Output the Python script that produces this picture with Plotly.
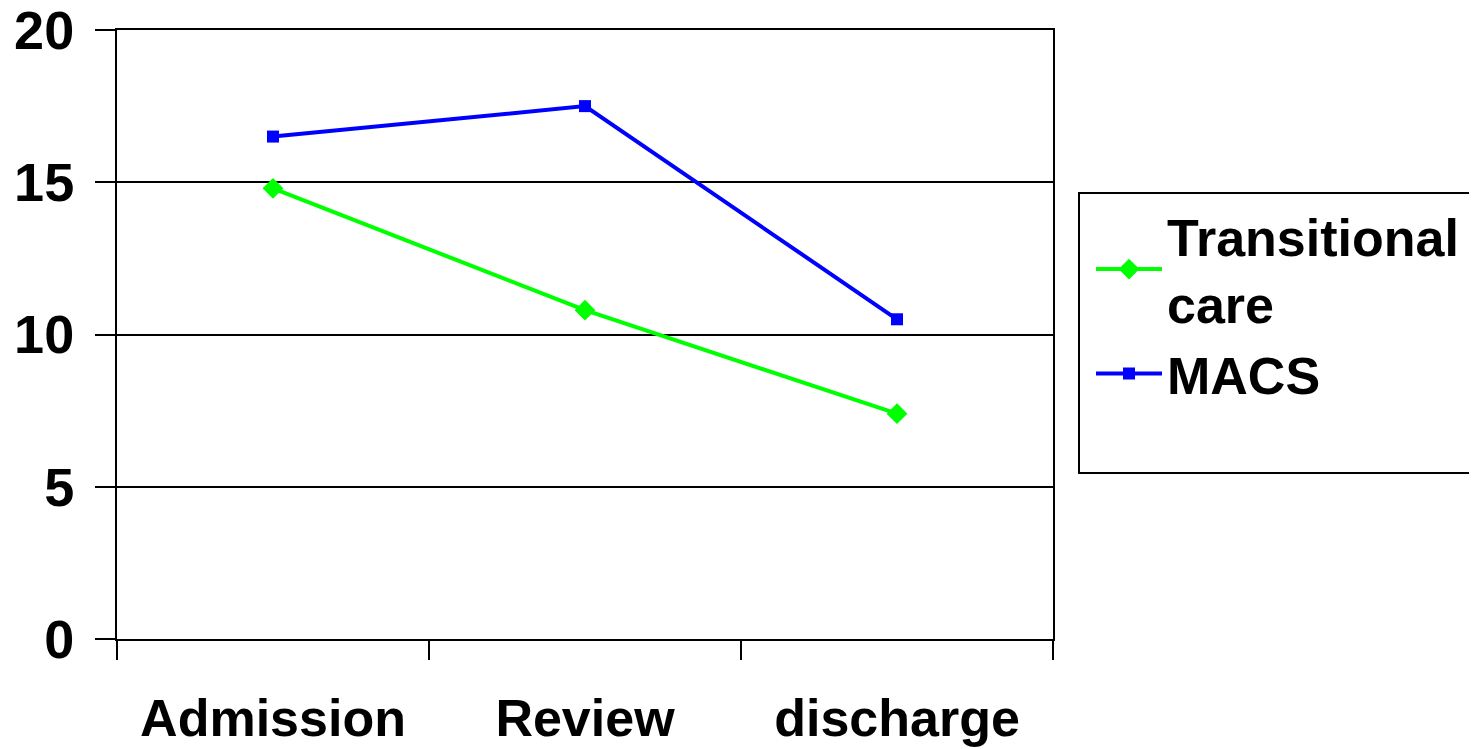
import plotly.graph_objects as go

categories = ["Admission", "Review", "discharge"]
transitional_care = [14.8, 10.8, 7.4]
macs = [16.5, 17.5, 10.5]
y_tick_values = [0, 5, 10, 15, 20]

# page body has an 8px margin; compensate so the plot lands where the reference has it
OFF = 8
W, H = 1477 - OFF, 749 - OFF
L, R, T, B = 117 - OFF, 424, 30 - OFF, 110
pw, ph = W - L - R, H - T - B

FONT = dict(family="Liberation Sans, Arial, sans-serif", size=52, color="black", weight="bold")

fig = go.Figure()
fig.add_trace(go.Scatter(
    x=categories, y=transitional_care, name="Transitional<br>care",
    mode="lines+markers",
    line=dict(color="#00FF00", width=4),
    marker=dict(symbol="diamond", size=16, color="#00FF00"),
))
fig.add_trace(go.Scatter(
    x=categories, y=macs, name="MACS",
    mode="lines+markers",
    line=dict(color="#0000FF", width=4),
    marker=dict(symbol="square", size=12, color="#0000FF"),
))

def px_x(p):
    return (p - OFF - L) / pw

def px_y(p):
    return (H - B - (p - OFF)) / ph

fig.add_shape(type="rect", xref="paper", yref="paper",
              x0=px_x(1079), x1=px_x(1500), y0=px_y(473), y1=px_y(193),
              line=dict(color="black", width=2), fillcolor="rgba(0,0,0,0)")

fig.update_layout(
    width=W, height=H,
    margin=dict(l=L, r=R, t=T, b=B, pad=0, autoexpand=False),
    paper_bgcolor="white", plot_bgcolor="white",
    font=FONT,
    showlegend=True,
    legend=dict(
        x=px_x(1091), y=px_y(195), xanchor="left", yanchor="top",
        bgcolor="rgba(0,0,0,0)", borderwidth=0,
        font=FONT, itemwidth=66, tracegroupgap=0,
    ),
    xaxis=dict(
        type="category", categoryorder="array", categoryarray=categories,
        range=[-0.5, 2.5], automargin=False,
        showgrid=False, zeroline=False,
        showline=True, linecolor="black", linewidth=2, mirror=True,
        ticks="outside", tickson="boundaries", ticklen=19, tickwidth=2, tickcolor="black",
        ticklabelstandoff=33, ticklabeloverflow="allow",
        tickfont=FONT,
    ),
    yaxis=dict(
        range=[0, 20], tickvals=y_tick_values, automargin=False,
        showgrid=True, gridcolor="black", gridwidth=2,
        zeroline=False,
        showline=True, linecolor="black", linewidth=2, mirror=True,
        ticks="outside", ticklen=20, tickwidth=2, tickcolor="black",
        ticklabelstandoff=10, ticklabeloverflow="allow",
        tickfont=dict(FONT, size=54),
    ),
)

fig.write_html("out.html")
